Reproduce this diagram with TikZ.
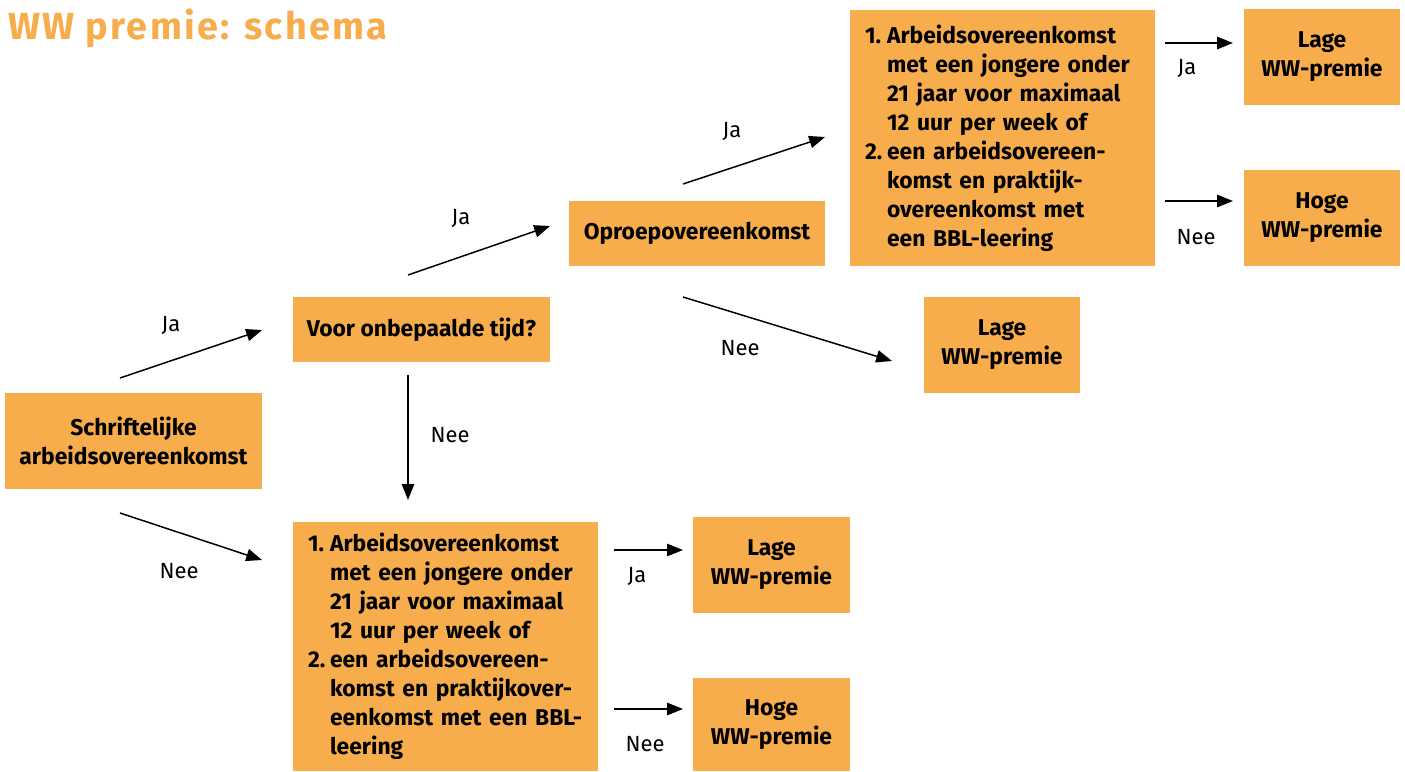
\documentclass[tikz,border=0pt]{standalone}
\usepackage{fontspec}
\setmainfont{Fira Sans}
\usetikzlibrary{arrows.meta}
\definecolor{wworanje}{HTML}{F7AD4C}
\newcommand{\nrvak}[1]{\makebox[0.44cm][l]{#1}}
\newcommand{\inspring}{\hspace*{0.44cm}}
\tikzset{
  vak/.style={fill=wworanje, inner sep=0pt, align=center,
    font=\bfseries\fontsize{13}{16.5}\selectfont},
  lijstvak/.style={vak, inner xsep=0.3cm, text width=5.5cm, align=left},
  pijl/.style={-{Triangle[length=9pt,width=7pt]}, line width=0.85pt},
  lbl/.style={font=\fontsize{12.5}{15}\selectfont}
}
\begin{document}
\begin{tikzpicture}[x=0.02cm,y=-0.02cm]
    \useasboundingbox (0,0) rectangle (1405,771);
    % Titel
    \node[anchor=base west, text=wworanje, inner sep=0pt,
      font=\bfseries\fontsize{21.5}{25}\selectfont\addfontfeature{LetterSpace=6}] (titel) at (8,39) {WW premie: schema};

    % Vakken
    \node[vak, minimum width=5.14cm, minimum height=1.92cm] (schrift) at (133.5,441)
      {Schriftelijke\\arbeidsovereenkomst};
    \node[vak, minimum width=5.14cm, minimum height=1.3cm] (voor) at (421.5,329.5)
      {Voor onbepaalde tijd?};
    \node[vak, minimum width=5.12cm, minimum height=1.3cm] (oproep) at (697,233.5)
      {Oproepovereenkomst};
    \node[lijstvak, minimum height=5.12cm] (eisboven) at (1002.5,138)
      {\nrvak{1.}Arbeidsovereenkomst\\
       \inspring met een jongere onder\\
       \inspring 21 jaar voor maximaal\\
       \inspring 12 uur per week of\\
       \nrvak{2.}een arbeidsovereen-\\
       \inspring komst en praktijk-\\
       \inspring overeenkomst met\\
       \inspring een BBL-leering};
    \node[vak, minimum width=3.12cm, minimum height=1.92cm] (lageboven) at (1322,57)
      {Lage\\WW-premie};
    \node[vak, minimum width=3.12cm, minimum height=1.92cm] (hogeboven) at (1322,218)
      {Hoge\\WW-premie};
    \node[vak, minimum width=3.12cm, minimum height=1.92cm] (lagemidden) at (1002,345)
      {Lage\\WW-premie};
    \node[lijstvak, minimum height=4.98cm] (eisonder) at (445.5,646.5)
      {\nrvak{1.}Arbeidsovereenkomst\\
       \inspring met een jongere onder\\
       \inspring 21 jaar voor maximaal\\
       \inspring 12 uur per week of\\
       \nrvak{2.}een arbeidsovereen-\\
       \inspring komst en praktijkover-\\
       \inspring eenkomst met een BBL-\\
       \inspring leering};
    \node[vak, minimum width=3.14cm, minimum height=1.92cm] (lageonder) at (771.5,565)
      {Lage\\WW-premie};
    \node[vak, minimum width=3.14cm, minimum height=1.86cm] (hogeonder) at (771.5,724.5)
      {Hoge\\WW-premie};

    % Eindpunten van de pijlen
    \coordinate (p1a) at (120,378);  \coordinate (p1b) at (262,330);
    \coordinate (p2a) at (120,513);  \coordinate (p2b) at (262,560);
    \coordinate (p3a) at (408,275);  \coordinate (p3b) at (550,226);
    \coordinate (p4a) at (408,375);  \coordinate (p4b) at (408,500);
    \coordinate (p5a) at (683,184);  \coordinate (p5b) at (825,137);
    \coordinate (p6a) at (683,297);  \coordinate (p6b) at (892,361);
    \coordinate (p7a) at (1165,43);  \coordinate (p7b) at (1233,43);
    \coordinate (p8a) at (1165,201); \coordinate (p8b) at (1233,201);
    \coordinate (p9a) at (614,550);  \coordinate (p9b) at (683,550);
    \coordinate (p10a) at (614,709); \coordinate (p10b) at (683,709);

    % Pijlen
    \draw[pijl] (p1a) -- (p1b);
    \draw[pijl] (p2a) -- (p2b);
    \draw[pijl] (p3a) -- (p3b);
    \draw[pijl] (p4a) -- (p4b);
    \draw[pijl] (p5a) -- (p5b);
    \draw[pijl] (p6a) -- (p6b);
    \draw[pijl] (p7a) -- (p7b);
    \draw[pijl] (p8a) -- (p8b);
    \draw[pijl] (p9a) -- (p9b);
    \draw[pijl] (p10a) -- (p10b);

    % Labels
    \node[lbl] (l1) at (171,325) {Ja};
    \node[lbl] (l2) at (179,571) {Nee};
    \node[lbl] (l3) at (461,218) {Ja};
    \node[lbl] (l4) at (450,435) {Nee};
    \node[lbl] (l5) at (732,131) {Ja};
    \node[lbl] (l6) at (740,348) {Nee};
    \node[lbl] (l7) at (1187,68) {Ja};
    \node[lbl] (l8) at (1196,237) {Nee};
    \node[lbl] (l9) at (637,576) {Ja};
    \node[lbl] (l10) at (645,744) {Nee};
\end{tikzpicture}
\end{document}
